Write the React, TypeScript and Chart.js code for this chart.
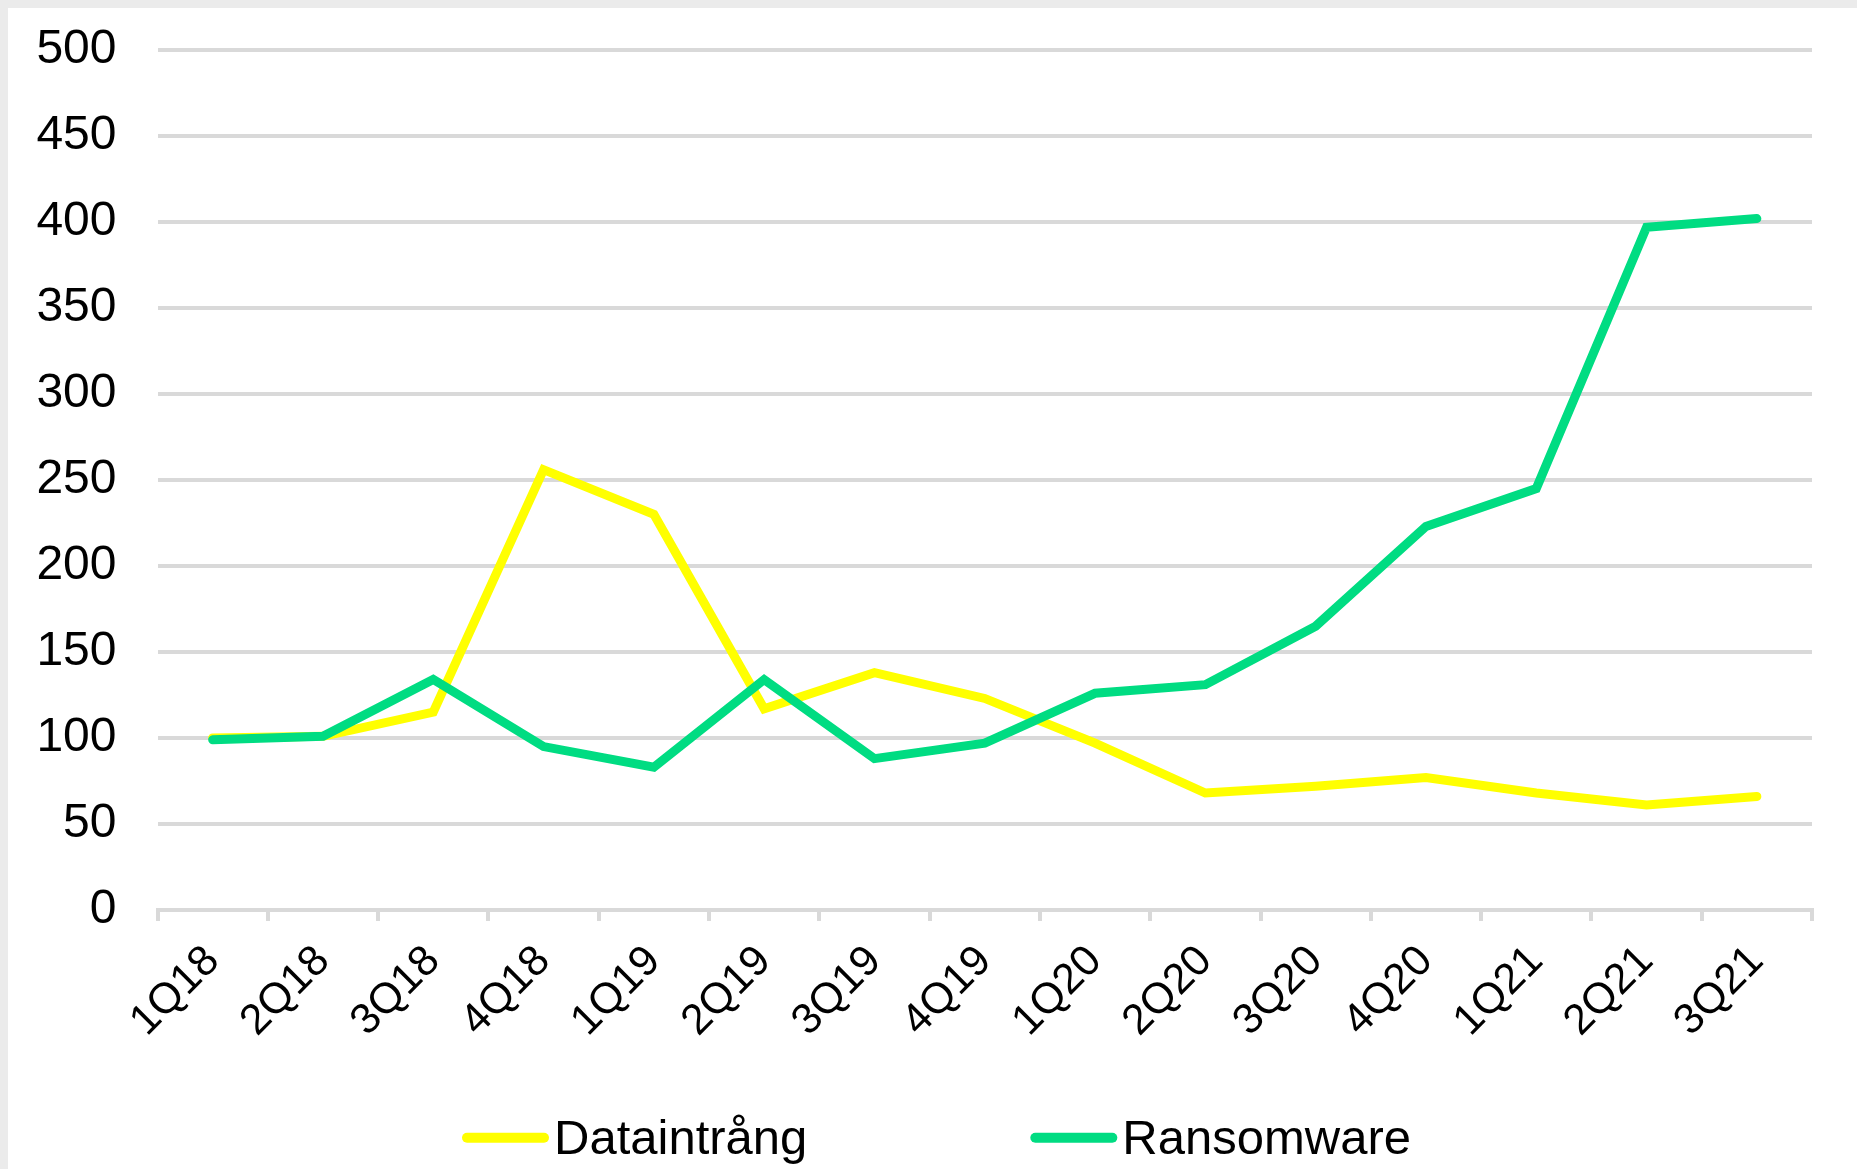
import React, { useEffect, useRef } from "react";
import { Chart, registerables } from "chart.js";

Chart.register(...registerables);

const categories = [
  "1Q18", "2Q18", "3Q18", "4Q18", "1Q19", "2Q19", "3Q19", "4Q19",
  "1Q20", "2Q20", "3Q20", "4Q20", "1Q21", "2Q21", "3Q21",
];
const dataintrang = [100, 101, 115, 256, 230, 117, 138, 123, 97, 68, 72, 77, 68, 61, 66];
const ransomware = [99, 101, 134, 95, 83, 134, 88, 97, 126, 131, 165, 223, 245, 397, 402];
const seriesNames = ["Dataintrång", "Ransomware"];
const yMin = 0;
const yMax = 500;
const yStep = 50;

const FONT = '"Liberation Sans", Arial, sans-serif';
const YELLOW = "#FFFF00";
const GREEN = "#00DC82";
const GRID = "#D9D9D9";

const W = 1849;
const H = 1161;

const legendPlugin = {
  id: "lineLegend",
  afterDraw(chart: any, _args: any, opts: any) {
    const ctx = chart.ctx as CanvasRenderingContext2D;
    ctx.save();
    ctx.font = `${opts.fontSize}px ${FONT}`;
    const items = chart.data.datasets.map((ds: any) => ({
      text: ds.label as string,
      color: ds.borderColor as string,
      w: ctx.measureText(ds.label).width,
    }));
    let x = opts.startX;
    items.forEach((it: any) => {
      ctx.fillStyle = it.color;
      ctx.beginPath();
      const top = opts.boxCenterY - opts.boxHeight / 2;
      if ((ctx as any).roundRect) {
        (ctx as any).roundRect(x, top, opts.boxWidth, opts.boxHeight, opts.boxHeight / 2);
      } else {
        ctx.rect(x, top, opts.boxWidth, opts.boxHeight);
      }
      ctx.fill();
      ctx.fillStyle = "#000";
      ctx.textBaseline = "alphabetic";
      ctx.textAlign = "left";
      ctx.fillText(it.text, x + opts.boxWidth + opts.gap, opts.baselineY);
      x += opts.boxWidth + opts.gap + it.w + opts.spacing;
    });
    ctx.restore();
  },
};

export default function App() {
  const ref = useRef<HTMLCanvasElement | null>(null);

  useEffect(() => {
    if (!ref.current) return;
    const chart = new Chart(ref.current, {
      type: "line",
      data: {
        labels: categories,
        datasets: [
          {
            label: seriesNames[0],
            data: dataintrang,
            borderColor: YELLOW,
            backgroundColor: YELLOW,
            borderWidth: 9,
            pointRadius: 0,
            pointHoverRadius: 0,
            tension: 0,
            fill: false,
            borderCapStyle: "round",
            borderJoinStyle: "miter",
            order: 1,
          },
          {
            label: seriesNames[1],
            data: ransomware,
            borderColor: GREEN,
            backgroundColor: GREEN,
            borderWidth: 9,
            pointRadius: 0,
            pointHoverRadius: 0,
            tension: 0,
            fill: false,
            borderCapStyle: "round",
            borderJoinStyle: "miter",
            order: 0,
          },
        ],
      },
      options: {
        responsive: false,
        animation: false,
        devicePixelRatio: 1,
        layout: { padding: { top: 42, right: 45, bottom: 129, left: 0 } },
        plugins: {
          legend: { display: false },
          tooltip: { enabled: false },
          lineLegend: {
            fontSize: 49,
            boxWidth: 87,
            boxHeight: 10,
            gap: 5,
            spacing: 223,
            startX: 454,
            boxCenterY: 1129.7,
            baselineY: 1146,
          },
        } as any,
        scales: {
          x: {
            type: "category",
            offset: true,
            grid: {
              display: true,
              drawOnChartArea: false,
              drawTicks: true,
              tickLength: 11,
              color: GRID,
              lineWidth: 4,
              offset: true,
            },
            border: { display: true, color: GRID, width: 4 },
            ticks: {
              autoSkip: false,
              maxRotation: 45,
              minRotation: 45,
              padding: 15,
              color: "#000",
              font: { family: FONT, size: 43 },
            },
            afterFit: (scale: any) => {
              scale.height = 130;
            },
          },
          y: {
            min: yMin,
            max: yMax,
            grid: {
              color: GRID,
              lineWidth: 4,
              drawTicks: false,
            },
            border: { display: false },
            ticks: {
              stepSize: yStep,
              padding: 41,
              color: "#000",
              font: { family: FONT, size: 48 },
            },
            afterFit: (scale: any) => {
              scale.width = 149.5;
              scale.paddingTop = 0;
              scale.paddingBottom = 0;
            },
          },
        },
      },
      plugins: [legendPlugin],
    } as any);
    return () => chart.destroy();
  }, []);

  return (
    <div style={{ position: "fixed", inset: 0, background: "#EBEBEB" }}>
      <div
        style={{
          position: "absolute",
          left: 8,
          top: 8,
          width: W,
          height: H,
          background: "#FFFFFF",
        }}
      >
        <canvas
          ref={ref}
          width={W}
          height={H}
          style={{ display: "block", width: W, height: H }}
        />
      </div>
    </div>
  );
}
